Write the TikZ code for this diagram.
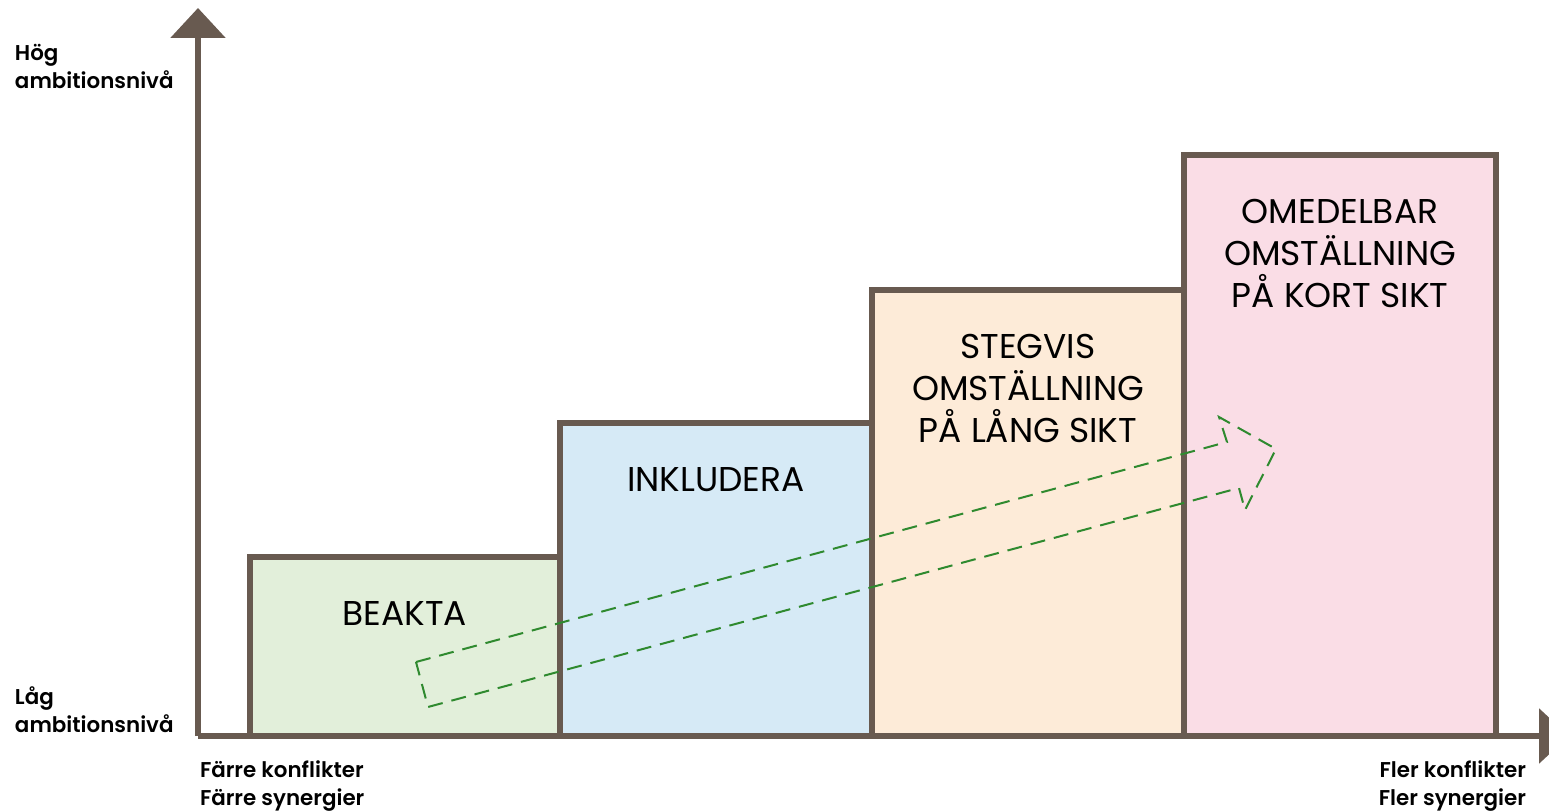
\documentclass[tikz,border=0pt]{standalone}
\usepackage{fontspec}
\setmainfont{Poppins}
\newfontfamily\axisfont{Poppins}[UprightFont=* SemiBold]
\usepackage{tikz}
\usetikzlibrary{arrows.meta,positioning,fit}

\definecolor{axisgray}{RGB}{104,90,80}
\definecolor{beaktagreen}{RGB}{226,239,218}
\definecolor{inklblue}{RGB}{214,234,246}
\definecolor{stegpeach}{RGB}{253,235,216}
\definecolor{omedpink}{RGB}{250,221,230}
\definecolor{dashgreen}{RGB}{47,138,47}

\tikzset{
  ambbox/.style={draw=axisgray, line width=3pt, inner sep=0pt, outer sep=0pt, rectangle},
  boxlabel/.style={inner sep=0pt, outer sep=0pt, align=center, font=\fontsize{17.2}{21}\selectfont},
  axislabel/.style={inner sep=0pt, outer sep=0pt, font=\axisfont\fontsize{10.7}{14}\selectfont},
  axisline/.style={draw=axisgray, line width=3pt, -{Triangle[length=15pt,width=27pt]}},
}

\begin{document}
\begin{tikzpicture}[x=0.5pt, y=-0.5pt, node distance=22pt]
    \useasboundingbox (0,0) rectangle (1549,812);

    % Steps
    \node[ambbox, fill=beaktagreen, fit={(250,557) (560,736)}] (beakta) {};
    \node[ambbox, fill=inklblue, fit={(560,423) (872,736)}] (inkludera) {};
    \node[ambbox, fill=stegpeach, fit={(872,290) (1184,736)}] (stegvis) {};
    \node[ambbox, fill=omedpink, fit={(1184,155) (1496,736)}] (omedelbar) {};

    \node[boxlabel, below=of beakta.north] (beakta-txt) {BEAKTA};
    \node[boxlabel, below=of inkludera.north] (inkludera-txt) {INKLUDERA};
    \node[boxlabel, below=of stegvis.north] (stegvis-txt) {STEGVIS\\OMSTÄLLNING\\PÅ LÅNG SIKT};
    \node[boxlabel, below=of omedelbar.north] (omedelbar-txt) {OMEDELBAR\\OMSTÄLLNING\\PÅ KORT SIKT};

    % Dashed arrow
    \draw[dashgreen, line width=1pt, dash pattern=on 7.5pt off 4.5pt]
        (416,662) -- (1227,442) -- (1219,417) -- (1276,449) -- (1245,510)
        -- (1239,488) -- (428,707) -- cycle;

    % Axes
    \coordinate (origin) at (198,736);
    \coordinate (ytop) at (198,8);
    \coordinate (xend) at (1569,736);
    \draw[axisline] (origin) -- (ytop);
    \draw[axisline] (origin) -- (xend);

    % Axis labels
    \node[axislabel, anchor=north west, align=left] (hog) at (15,44) {Hög\\ambitionsnivå};
    \node[axislabel, anchor=north west, align=left] (lag) at (15,687) {Låg\\ambitionsnivå};
    \node[axislabel, anchor=north west, align=left] (farre) at (200,761) {Färre konflikter\\Färre synergier};
    \node[axislabel, anchor=north east, align=right] (fler) at (1526,761) {Fler konflikter\\Fler synergier};
\end{tikzpicture}
\end{document}
